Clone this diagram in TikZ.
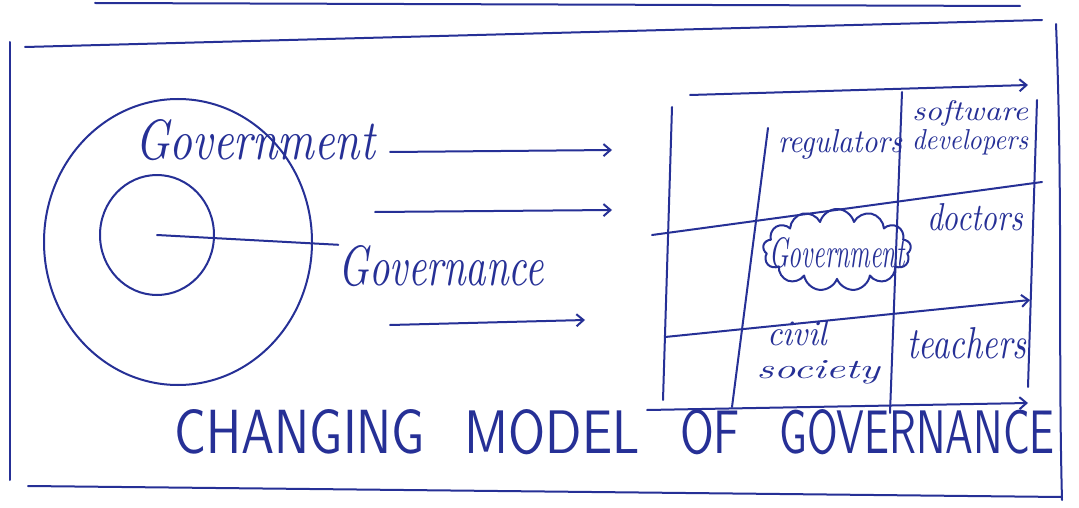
\documentclass[tikz,border=0pt]{standalone}
\usepackage{graphicx}
\usetikzlibrary{shapes.geometric,shapes.symbols,arrows.meta}
\definecolor{ink}{RGB}{38,48,150}
\newcommand{\hw}[3]{\resizebox{#1pt}{#2pt}{#3}}
\begin{document}
\begin{tikzpicture}[x=1pt,y=-1pt,
  pen/.style={draw=ink, line width=2pt, line cap=round, line join=round},
  arr/.style={pen, -{Straight Barb[length=7pt,width=12pt]}},
  lbl/.style={inner sep=0pt, text=ink, anchor=base, font=\itshape},
  ttl/.style={inner sep=0pt, text=ink, anchor=base, font=\sffamily}]
\useasboundingbox (0,0) rectangle (1079,508);
\fill[white] (0,0) rectangle (1079,508);

% frame
\coordinate (t1) at (95,3);   \coordinate (t2) at (1020,6);
\coordinate (f1) at (25,47);  \coordinate (f2) at (1042,20);
\coordinate (l1) at (10,42);  \coordinate (l2) at (10,480);
\coordinate (r1) at (1056,24); \coordinate (r2) at (1062,500);
\coordinate (b1) at (28,486); \coordinate (b2) at (1062,497);
\draw[pen] (t1) -- (t2);
\draw[pen] (f1) -- (f2);
\draw[pen] (l1) -- (l2);
\draw[pen] (r1) .. controls (1063,200) and (1058,350) .. (r2);
\draw[pen] (b1) -- (b2);

% left part
\node[ellipse, pen, minimum width=268pt, minimum height=286pt] (outer) at (178,242) {};
\node[ellipse, pen, minimum width=114pt, minimum height=120pt] (inner) at (157,235) {};
\node[lbl] (govt) at (255,160) {\hw{240}{40}{Government}};
\node[lbl] (gova) at (441,285) {\hw{205}{40}{Governance}};
\draw[pen] (inner.center) -- (gova.north west);

\coordinate (a1s) at (390,152); \coordinate (a1e) at (612,150);
\coordinate (a2s) at (375,212); \coordinate (a2e) at (612,210);
\coordinate (a3s) at (390,325); \coordinate (a3e) at (585,320);
\draw[arr] (a1s) -- (a1e);
\draw[arr] (a2s) -- (a2e);
\draw[arr] (a3s) -- (a3e);

% table
\coordinate (ta) at (690,95);  \coordinate (tb) at (1028,85);
\coordinate (v1a) at (672,107); \coordinate (v1b) at (663,400);
\coordinate (v2a) at (768,128); \coordinate (v2b) at (732,407);
\coordinate (v3a) at (902,92);  \coordinate (v3b) at (890,413);
\coordinate (v4a) at (1037,100); \coordinate (v4b) at (1028,387);
\coordinate (h1a) at (652,235); \coordinate (h1b) at (1042,182);
\coordinate (h2a) at (665,337); \coordinate (h2b) at (1030,300);
\coordinate (h3a) at (647,410); \coordinate (h3b) at (1028,403);
\draw[arr] (ta) -- (tb);
\draw[pen] (v1a) -- (v1b);
\draw[pen] (v2a) -- (v2b);
\draw[pen] (v3a) -- (v3b);
\draw[pen] (v4a) -- (v4b);
\draw[pen] (h1a) -- (h1b);
\draw[arr] (h2a) -- (h2b);
\draw[arr] (h3a) -- (h3b);

\node[lbl] (reg) at (840,153) {\hw{124}{23}{regulators}};
\node[lbl] (soft) at (970,121) {\hw{116}{20}{software}};
\node[lbl] (dev) at (970,150) {\hw{116}{20}{developers}};
\node[cloud, cloud puffs=13, pen, minimum width=148pt, minimum height=82pt, inner sep=0pt] (cloud) at (837,250) {};
\node[lbl] (gov2) at (837,267) {\hw{135}{30}{Government}};
\node[lbl] (doc) at (975,230) {\hw{96}{27}{doctors}};
\node[lbl] (civ) at (797,345) {\hw{60}{25}{civil}};
\node[lbl] (soc) at (818,378) {\hw{123}{18}{society}};
\node[lbl] (tea) at (967,358) {\hw{119}{31}{teachers}};

% title
\node[ttl] (w1) at (300,453) {\hw{250}{44}{CHANGING}};
\node[ttl] (w2) at (552,453) {\hw{175}{44}{MODEL}};
\node[ttl] (w3) at (710,453) {\hw{60}{44}{OF}};
\node[ttl] (w4) at (917,453) {\hw{275}{44}{GOVERNANCE}};
\end{tikzpicture}
\end{document}
